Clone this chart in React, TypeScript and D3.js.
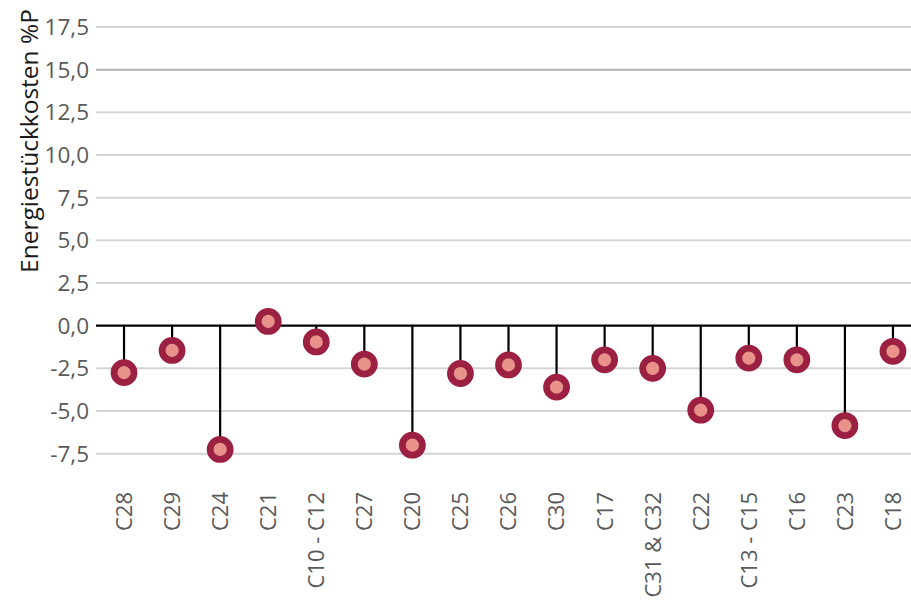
import React from "react";
import * as d3 from "d3";

const categories = ["C28","C29","C24","C21","C10 - C12","C27","C20","C25","C26","C30","C17","C31 & C32","C22","C13 - C15","C16","C23","C18"];
const values = [-2.75,-1.45,-7.25,0.25,-0.95,-2.25,-7.0,-2.8,-2.3,-3.6,-2.0,-2.5,-4.95,-1.9,-2.0,-5.85,-1.5];
const yTicks = [-7.5,-5,-2.5,0,2.5,5,7.5,10,12.5,15,17.5];
const yTitle = "Energiestückkosten %P";

const W = 911, H = 600;
const left = 96, right = 911;

export default function App() {
  const y = d3.scaleLinear().domain([0, 17.5]).range([325.7, 27.0]);
  const x = d3.scaleBand().domain(categories).range([100, 917]);
  const fmt = (v: number) => v.toFixed(1).replace(".", ",");
  const font = "'Open Sans', sans-serif";
  return (
    <svg width={W} height={H} style={{ position: "absolute", left: 0, top: 0 }}>
      <rect width={W} height={H} fill="#fff" />
      {yTicks.map((t) => (
        <g key={t}>
          {t !== 0 && (
            <line x1={left} x2={right} y1={y(t)} y2={y(t)} stroke={t === 15 ? "#b0b0b0" : "#d4d4d4"} strokeWidth={2} />
          )}
          <text x={89} y={y(t)} dy="0.36em" textAnchor="end" fontFamily={font} fontSize={22.5} fill="#595959">{fmt(t)}</text>
        </g>
      ))}
      <line x1={left} x2={right} y1={y(0)} y2={y(0)} stroke="#000" strokeWidth={2.2} />
      {categories.map((c, i) => {
        const cx = (x(c) as number) + x.bandwidth() / 2;
        return (
          <g key={c}>
            <line x1={cx} x2={cx} y1={y(0)} y2={y(values[i])} stroke="#000" strokeWidth={2.2} />
            <circle cx={cx} cy={y(values[i])} r={10} fill="#e8928a" stroke="#9c2042" strokeWidth={6.8} />
            <text transform={`translate(${cx},492) rotate(-90)`} dy="0.36em" textAnchor="end" fontFamily={font} fontSize={22} fill="#595959">{c}</text>
          </g>
        );
      })}
      <text transform={`translate(29,141) rotate(-90)`} dy="0.36em" textAnchor="middle" fontFamily={font} fontSize={24.5} fill="#1a1a1a">{yTitle}</text>
    </svg>
  );
}
